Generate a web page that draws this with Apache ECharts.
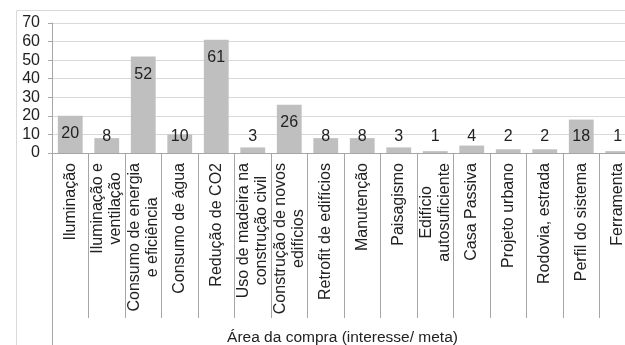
<!DOCTYPE html>
<html>
<head>
<meta charset="utf-8">
<script src="https://cdn.jsdelivr.net/npm/echarts@6/dist/echarts.min.js"></script>
<style>
  html, body { margin: 0; padding: 0; background: #fff; }
  #main { width: 625px; height: 345px; }
</style>
</head>
<body>
<div id="main"></div>
<script>
// categorias (eixo X) e valores
const categories = [
  'Iluminação',
  'Iluminação e\nventilação',
  'Consumo de energia\ne eficiência',
  'Consumo de água',
  'Redução de CO2',
  'Uso de madeira na\nconstrução civil',
  'Construção de novos\nedifícios',
  'Retrofit de edifícios',
  'Manutenção',
  'Paisagismo',
  'Edifício\nautosuficiente',
  'Casa Passiva',
  'Projeto urbano',
  'Rodovia, estrada',
  'Perfil do sistema',
  'Ferramenta'
]
const values = [20, 8, 52, 10, 61, 3, 26, 8, 8, 3, 1, 4, 2, 2, 18, 1]
const yTicks = [0, 10, 20, 30, 40, 50, 60, 70]
const xName = 'Área da compra (interesse/ meta)'

const font = 'Liberation Sans, Arial, sans-serif'
const textColor = '#222'

// measure label lines so that wrapped lines can be centred on each other
const ctx = document.createElement('canvas').getContext('2d')
ctx.font = '16px "Liberation Sans", Arial, sans-serif'
const rich = {
  c: { fontFamily: font, fontSize: 16, lineHeight: 18, color: textColor }
}
let padCount = 0
function labelText(val) {
  const lines = val.split('\n')
  if (lines.length === 1) return '{c|' + val + '}'
  const widths = lines.map(function(s) { return ctx.measureText(s).width })
  const maxW = Math.max.apply(null, widths)
  return lines.map(function(s, i) {
    const pad = (maxW - widths[i]) / 2
    if (pad < 1) return '{c|' + s + '}'
    const key = 'p' + (padCount++)
    rich[key] = { width: pad, fontSize: 16, lineHeight: 18, color: 'transparent' }
    return '{c|' + s + '}{' + key + '|\u00a0}'
  }).join('\n')
}
const labelMap = {}
categories.forEach(function(c) { labelMap[c] = labelText(c) })

const chart = echarts.init(document.getElementById('main'))

// short bars keep their label just above the axis
const barData = values.map(function(v) {
  const low = v < 19
  return {
    value: v,
    label: low
      ? { position: 'insideBottom', distance: 8 }
      : { position: 'insideTop', distance: 10 }
  }
})

const option = {
  animation: false,
  backgroundColor: '#fff',
  graphic: [
    {
      type: 'rect',
      shape: { x: 16.5, y: 10.5, width: 700, height: 400 },
      style: { fill: 'none', stroke: '#d9d9d9', lineWidth: 1 },
      silent: true
    },
    {
      type: 'line',
      shape: { x1: 52.5, y1: 153, x2: 52.5, y2: 345 },
      style: { stroke: '#a6a6a6', lineWidth: 1 },
      silent: true
    }
  ],
  grid: {
    left: 52,
    top: 23,
    width: 584,
    height: 130,
    outerBoundsMode: 'none'
  },
  xAxis: {
    type: 'category',
    data: categories,
    name: xName,
    nameLocation: 'middle',
    nameGap: 177,
    nameTextStyle: {
      fontFamily: font,
      fontSize: 15.5,
      color: textColor,
      padding: [0, 3, 0, 0]
    },
    axisLine: { lineStyle: { color: '#a6a6a6', width: 1 } },
    axisTick: {
      show: true,
      length: 165,
      lineStyle: { color: '#a6a6a6' }
    },
    axisLabel: {
      interval: 0,
      rotate: 90,
      margin: 10,
      fontFamily: font,
      fontSize: 16,
      color: textColor,
      lineHeight: 18,
      formatter: function(val) {
        return labelMap[val]
      },
      rich: rich
    }
  },
  yAxis: {
    type: 'value',
    min: yTicks[0],
    max: yTicks[yTicks.length - 1],
    interval: 10,
    axisLine: { show: true, lineStyle: { color: '#a6a6a6' } },
    axisTick: { show: true, length: 4, lineStyle: { color: '#a6a6a6' } },
    axisLabel: {
      margin: 12,
      fontFamily: font,
      fontSize: 16,
      color: textColor
    },
    splitLine: { lineStyle: { color: '#d9d9d9' } }
  },
  series: [
    {
      type: 'bar',
      data: barData,
      barCategoryGap: '32%',
      itemStyle: { color: '#bfbfbf' },
      label: {
        show: true,
        fontFamily: font,
        fontSize: 16,
        color: textColor
      }
    }
  ]
}

chart.setOption(option)
</script>
</body>
</html>
